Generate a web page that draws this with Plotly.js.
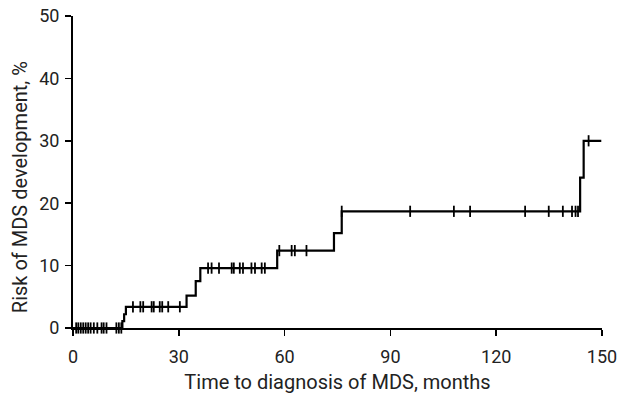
<!DOCTYPE html>
<html>
<head>
<meta charset="utf-8">
<script src="https://cdn.plot.ly/plotly-3.0.1.min.js"></script>
<style>html,body{margin:0;padding:0;background:#fff;}#chart{width:623px;height:397px;}</style>
</head>
<body>
<div id="chart"></div>
<script>
// Kaplan-Meier style cumulative risk (step points)
const stepMonths = [0, 14.0, 14.5, 15.0, 32.2, 34.8, 36.1, 57.9, 74.0, 76.2, 143.8, 144.8, 149.8];
const stepRisk   = [0, 1.1, 2.2, 3.4, 5.2, 7.5, 9.6, 12.4, 15.2, 18.7, 24.1, 30.0, 30.0];
// censored observations (months)
const censorMonths = [0.9, 1.5, 2.2, 2.9, 3.6, 4.3, 5.0, 5.9, 6.9, 8.1, 8.7, 9.5, 12.3, 13.0, 13.7,
  17.0, 19.1, 19.9, 22.3, 22.9, 24.6, 25.3, 27.0, 30.3,
  38.3, 39.3, 41.4, 45.0, 45.6, 47.3, 48.2, 50.6, 51.6, 53.5, 54.4,
  58.5, 62.0, 62.9, 66.2,
  76.2, 95.6, 108.0, 112.6, 128.2, 134.9, 138.9, 141.5, 142.5, 143.2,
  146.2];
const xTicks = [0, 30, 60, 90, 120, 150];
const yTicks = [0, 10, 20, 30, 40, 50];
const xTitle = 'Time to diagnosis of MDS, months';
const yTitle = 'Risk of MDS development, %';

function riskAt(t) {
  let r = 0;
  for (let i = 0; i < stepMonths.length; i++) { if (stepMonths[i] <= t) r = stepRisk[i]; }
  return r;
}
const censorRisk = censorMonths.map(riskAt);

const FONT = 'Roboto, "Liberation Sans Narrow", Arial, sans-serif';

const traces = [
  {x: stepMonths, y: stepRisk, type: 'scatter', mode: 'lines', line: {shape: 'hv', color: '#000', width: 2.2},
   cliponaxis: false, hoverinfo: 'skip', showlegend: false},
  {x: censorMonths, y: censorRisk, type: 'scatter', mode: 'markers',
   marker: {symbol: 'line-ns', size: 8, color: '#000', line: {color: '#000', width: 1.8}},
   cliponaxis: false, showlegend: false}
];

const layout = {
  width: 623, height: 397,
  margin: {l: 73, r: 21, t: 16, b: 69},
  paper_bgcolor: '#fff', plot_bgcolor: '#fff',
  font: {family: FONT, size: 18, color: '#222'},
  showlegend: false,
  xaxis: {range: [0, 150], tickvals: xTicks, ticktext: xTicks.map(String), ticks: 'outside', ticklen: 6, tickwidth: 1.5,
    tickcolor: '#000', showline: true, linecolor: '#000', linewidth: 2, showgrid: false, zeroline: false,
    ticklabelstandoff: 5,
    tickfont: {family: FONT, size: 18, color: '#222'},
    title: {text: xTitle, font: {family: FONT, size: 20, color: '#222'}, standoff: 9}},
  yaxis: {range: [0, 50], tickvals: yTicks, ticktext: yTicks.map(String), ticks: 'outside', ticklen: 6, tickwidth: 1.5,
    tickcolor: '#000', showline: true, linecolor: '#000', linewidth: 2, showgrid: false, zeroline: false,
    ticklabelstandoff: 2,
    tickfont: {family: FONT, size: 18, color: '#222'}},
  annotations: [{text: yTitle, xref: 'paper', yref: 'paper', x: -0.101, y: 0.45, xanchor: 'center', yanchor: 'middle',
    textangle: -90, showarrow: false, font: {family: FONT, size: 20, color: '#222'}}]
};

Plotly.newPlot('chart', traces, layout, {displayModeBar: false, staticPlot: true});
</script>
</body>
</html>
